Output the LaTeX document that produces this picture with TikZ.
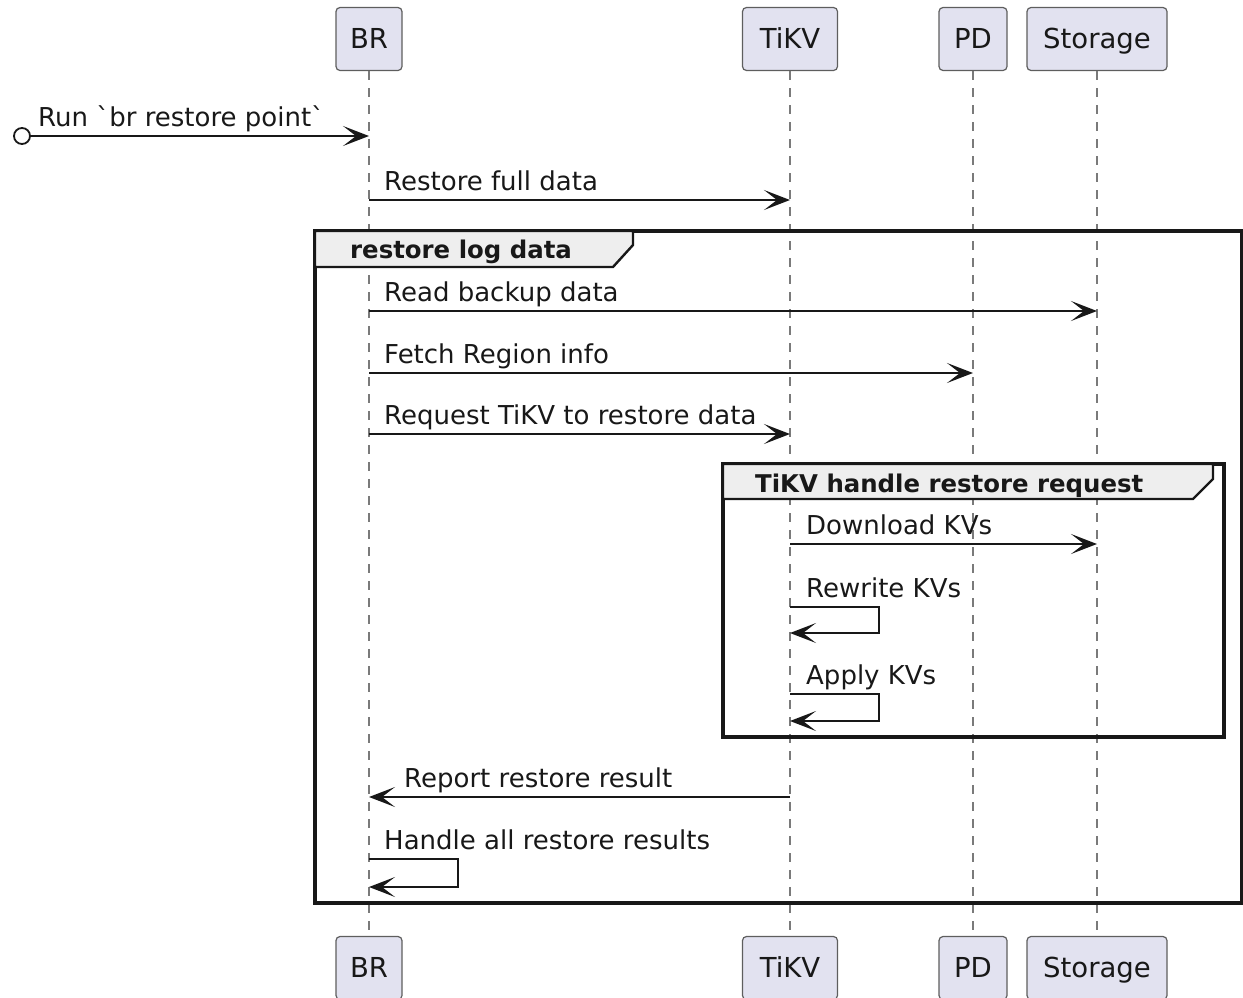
\documentclass[tikz,border=0pt]{standalone}
\usepackage{fontspec}
\setmainfont{DejaVu Sans}
\usetikzlibrary{arrows.meta}

\definecolor{partfill}{HTML}{E2E2F0}
\definecolor{partline}{HTML}{5E5E5E}
\definecolor{lifegray}{HTML}{7A7A7A}
\definecolor{inkdark}{HTML}{181818}
\definecolor{grouphead}{HTML}{EEEEEE}

\tikzset{
  participant/.style={draw=partline, fill=partfill, rounded corners=4pt, line width=1.2pt,
    minimum height=63pt, inner sep=0pt, text height=19pt, text depth=0pt,
    font=\fontsize{27.5}{30}\selectfont, text=inkdark},
  lifeline/.style={draw=lifegray, line width=1.2pt, dash pattern=on 9pt off 8pt},
  msg/.style={draw=inkdark, line width=1.7pt, -{Stealth[length=26pt, width=20pt, inset=13pt]}},
  lbl/.style={anchor=base west, inner sep=0pt, font=\fontsize{26}{30}\selectfont, text=inkdark},
  grpframe/.style={draw=inkdark, line width=3.2pt},
  grptab/.style={draw=inkdark, line width=2.4pt, fill=grouphead},
  grplbl/.style={anchor=base west, inner sep=0pt, font=\bfseries\fontsize{24.4}{28}\selectfont, text=inkdark},
  startdot/.style={circle, draw=inkdark, line width=1.8pt, fill=white, minimum size=16pt, inner sep=0pt},
}

\begin{document}
\begin{tikzpicture}[x=1pt, y=-1pt]
\useasboundingbox (0,0) rectangle (1243,997);

%Participants
\node[participant, minimum width=66pt] (brTop) at (369,39) {BR};
\node[participant, minimum width=95pt] (tikvTop) at (790,39) {TiKV};
\node[participant, minimum width=68pt] (pdTop) at (973,39) {PD};
\node[participant, minimum width=140pt] (stTop) at (1097,39) {Storage};
\node[participant, minimum width=66pt] (brBot) at (369,968) {BR};
\node[participant, minimum width=95pt] (tikvBot) at (790,968) {TiKV};
\node[participant, minimum width=68pt] (pdBot) at (973,968) {PD};
\node[participant, minimum width=140pt] (stBot) at (1097,968) {Storage};

\draw[lifeline] (brTop) -- (brBot);
\draw[lifeline] (tikvTop) -- (tikvBot);
\draw[lifeline] (pdTop) -- (pdBot);
\draw[lifeline] (stTop) -- (stBot);

%Groups
\draw[grpframe] (315,231) rectangle (1242,903);
\draw[grptab] (315,231) -- (633,231) -- (633,245) -- (613,267) -- (315,267) -- cycle;
\node[grplbl] (grpLog) at (350,258) {restore log data};
\draw[grpframe] (723,464) rectangle (1224,737);
\draw[grptab] (723,464) -- (1213,464) -- (1213,479) -- (1193,499) -- (723,499) -- cycle;
\node[grplbl] (grpTikv) at (755,492) {TiKV handle restore request};

%Messages
\node[startdot] (start) at (22,136) {};
\draw[msg] (start) -- (brTop |- start);
\node[lbl] (lRun) at (38,126) {Run \textasciigrave br restore point\textasciigrave};

\draw[msg] (brTop |- 0,200) -- (tikvTop |- 0,200);
\node[lbl] (lFull) at (384,190) {Restore full data};

\draw[msg] (brTop |- 0,311) -- (stTop |- 0,311);
\node[lbl] (lRead) at (384,301) {Read backup data};

\draw[msg] (brTop |- 0,373) -- (pdTop |- 0,373);
\node[lbl] (lFetch) at (384,363) {Fetch Region info};

\draw[msg] (brTop |- 0,434) -- (tikvTop |- 0,434);
\node[lbl] (lReq) at (384,424) {Request TiKV to restore data};

\draw[msg] (tikvTop |- 0,544) -- (stTop |- 0,544);
\node[lbl] (lDown) at (806,534) {Download KVs};

\draw[msg] (tikvTop |- 0,607) -- ++(89,0) |- (tikvTop |- 0,633);
\node[lbl] (lRewrite) at (806,597) {Rewrite KVs};

\draw[msg] (tikvTop |- 0,694) -- ++(89,0) |- (tikvTop |- 0,721);
\node[lbl] (lApply) at (806,684) {Apply KVs};

\draw[msg] (tikvTop |- 0,797) -- (brTop |- 0,797);
\node[lbl] (lReport) at (404,787) {Report restore result};

\draw[msg] (brTop |- 0,859) -- ++(89,0) |- (brTop |- 0,887);
\node[lbl] (lHandle) at (384,849) {Handle all restore results};
\end{tikzpicture}
\end{document}
